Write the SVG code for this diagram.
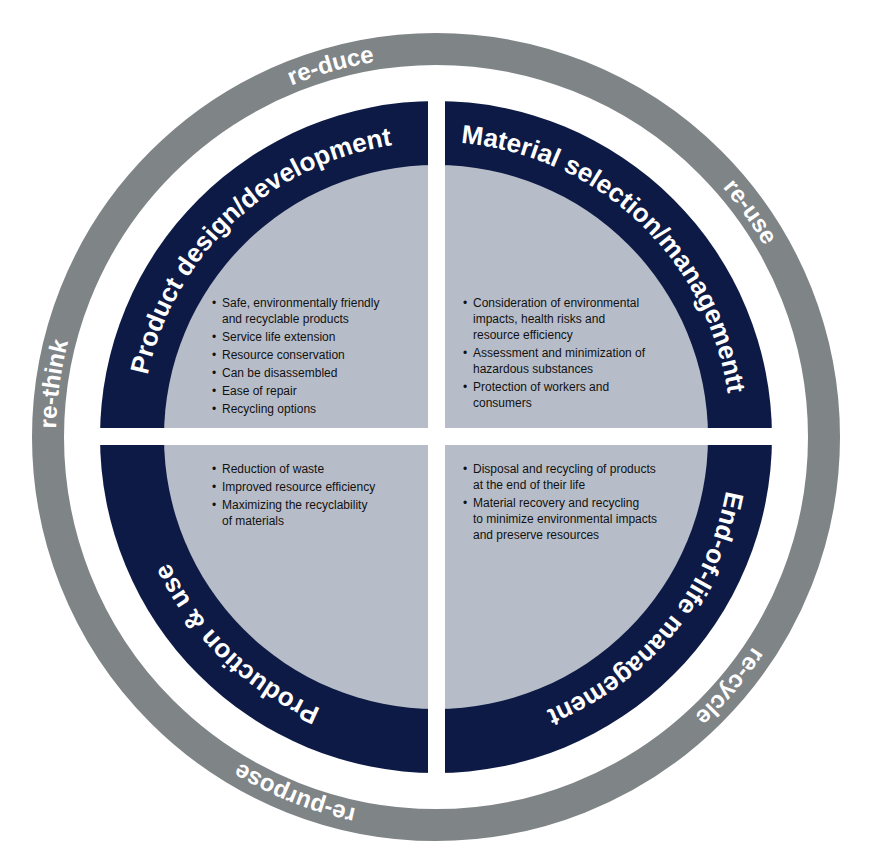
<svg xmlns="http://www.w3.org/2000/svg" xmlns:xlink="http://www.w3.org/1999/xlink" width="880" height="866" viewBox="0 0 880 866">
<style>
.ring{font-family:"Liberation Sans",Arial,sans-serif;font-weight:bold;font-size:24px;fill:#fff}
.title{font-family:"Liberation Sans",Arial,sans-serif;font-weight:bold;font-size:26px;fill:#fff}
.b{font-family:"Liberation Sans",Arial,sans-serif;font-size:12px;fill:#111}
</style>
<defs>
<path id="pr" d="M56,437 A380,380 0 1 1 816,437 A380,380 0 1 1 56,437"/>
<path id="pt" d="M141,437 A295,295 0 1 1 731,437 A295,295 0 1 1 141,437"/>
</defs>
<rect width="880" height="866" fill="#fff"/>
<g id="ring">
<circle cx="436" cy="437" r="388" fill="none" stroke="#7f8487" stroke-width="32"/>
<text class="ring" text-anchor="middle"><textPath href="#pr" startOffset="20.6%">re-duce</textPath></text>
<text class="ring" text-anchor="middle"><textPath href="#pr" startOffset="40.1%">re-use</textPath></text>
<text class="ring" text-anchor="middle"><textPath href="#pr" startOffset="61.2%">re-cycle</textPath></text>
<text class="ring" text-anchor="middle"><textPath href="#pr" startOffset="81%">re-purpose</textPath></text>
<text class="ring" text-anchor="middle"><textPath href="#pr" startOffset="2.2%">re-think</textPath></text>
</g>
<g id="disc">
<circle cx="436" cy="437" r="336" fill="#0d1a45"/>
<circle cx="436" cy="437" r="272" fill="#b7bdc8"/>
<rect x="428" y="90" width="17" height="700" fill="#fff"/>
<rect x="90" y="428" width="700" height="17" fill="#fff"/>
</g>
<g id="q1">
<text class="title" text-anchor="middle"><textPath href="#pt" startOffset="13%">Product design/development</textPath></text>
<g class="b">
<text x="212" y="307">•</text><text x="222" y="307">Safe, environmentally friendly</text>
<text x="222" y="323">and recyclable products</text>
<text x="212" y="341">•</text><text x="222" y="341">Service life extension</text>
<text x="212" y="359">•</text><text x="222" y="359">Resource conservation</text>
<text x="212" y="377">•</text><text x="222" y="377">Can be disassembled</text>
<text x="212" y="395">•</text><text x="222" y="395">Ease of repair</text>
<text x="212" y="413">•</text><text x="222" y="413">Recycling options</text>
</g>
</g>
<g id="q2">
<text class="title" text-anchor="middle"><textPath href="#pt" startOffset="37%">Material selection/managementt</textPath></text>
<g class="b">
<text x="463" y="307">•</text><text x="473" y="307">Consideration of environmental</text>
<text x="473" y="323">impacts, health risks and</text>
<text x="473" y="339">resource efficiency</text>
<text x="463" y="357">•</text><text x="473" y="357">Assessment and minimization of</text>
<text x="473" y="373">hazardous substances</text>
<text x="463" y="391">•</text><text x="473" y="391">Protection of workers and</text>
<text x="473" y="407">consumers</text>
</g>
</g>
<g id="q3">
<text class="title" text-anchor="middle"><textPath href="#pt" startOffset="87.2%">Production &amp; use</textPath></text>
<g class="b">
<text x="212" y="473">•</text><text x="222" y="473">Reduction of waste</text>
<text x="212" y="491">•</text><text x="222" y="491">Improved resource efficiency</text>
<text x="212" y="509">•</text><text x="222" y="509">Maximizing the recyclability</text>
<text x="222" y="525">of materials</text>
</g>
</g>
<g id="q4">
<text class="title" text-anchor="middle"><textPath href="#pt" startOffset="60.9%">End-of-life management</textPath></text>
<g class="b">
<text x="463" y="473">•</text><text x="473" y="473">Disposal and recycling of products</text>
<text x="473" y="489">at the end of their life</text>
<text x="463" y="507">•</text><text x="473" y="507">Material recovery and recycling</text>
<text x="473" y="523">to minimize environmental impacts</text>
<text x="473" y="539">and preserve resources</text>
</g>
</g>
<g id="connectors"/>
</svg>
